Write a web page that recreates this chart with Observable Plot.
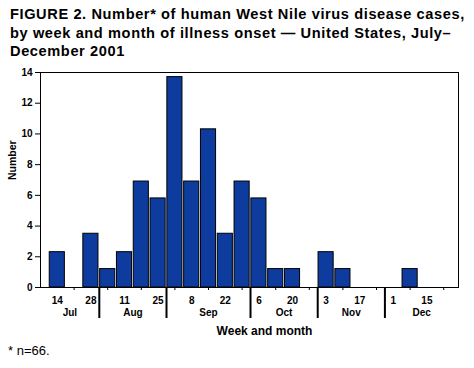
<!DOCTYPE html>
<html>
<head>
<meta charset="utf-8">
<script src="https://cdn.jsdelivr.net/npm/d3@7"></script>
<script src="https://cdn.jsdelivr.net/npm/@observablehq/plot@0.6"></script>
<style>
  html, body { margin: 0; padding: 0; background: #fff; }
  #wrap { position: relative; width: 474px; height: 368px; font-family: "Liberation Sans", Arial, sans-serif; color: #000; }
  #title { position: absolute; left: 10px; top: 5px; width: 464px; font-weight: bold; font-size: 14.6px; letter-spacing: 0.6px; line-height: 18.5px; white-space: nowrap; }
  #chart { position: absolute; left: 0; top: 60px; }
  #caption { position: absolute; left: 8px; top: 343px; font-size: 13px; }
</style>
</head>
<body>
<div id="wrap">
  <div id="title">FIGURE 2. Number* of human West Nile virus disease cases,<br>by week and month of illness onset — United States, July–<br>December 2001</div>
  <div id="chart"></div>
  <div id="caption">* n=66.</div>
</div>
<script>
// Week start days (Jul 14 – Dec 22, 2001)
const weekDays = [14, 21, 28, 4, 11, 18, 25, 1, 8, 15, 22, 29, 6, 13, 20, 27, 3, 10, 17, 24, 1, 8, 15, 22];
const weekMonths = ["Jul","Jul","Jul","Aug","Aug","Aug","Aug","Sep","Sep","Sep","Sep","Sep","Oct","Oct","Oct","Oct","Nov","Nov","Nov","Nov","Dec","Dec","Dec","Dec"];
// Bar heights as drawn against the y axis
const cases = [2.3, 0, 3.5, 1.2, 2.3, 6.9, 5.8, 13.7, 6.9, 10.3, 3.5, 6.9, 5.8, 1.2, 1.2, 0, 2.3, 1.2, 0, 0, 0, 1.2, 0, 0];
const months = ["Jul", "Aug", "Sep", "Oct", "Nov", "Dec"];
const yTicks = [0, 2, 4, 6, 8, 10, 12, 14];

const xDomain = [-1, 23.88];
const data = cases.map((v, i) => ({i, v, day: weekDays[i], month: weekMonths[i]})).filter(d => d.v > 0);

const labeled = weekDays.map((d, i) => i).filter(i => i % 2 === 0);
const minor = weekDays.map((d, i) => i).filter(i => i % 2 === 1);

// month boundaries (between weeks) and centers
const bounds = [];
for (let i = 1; i < weekMonths.length; i++) if (weekMonths[i] !== weekMonths[i - 1]) bounds.push(i - 0.5);
const edges = [xDomain[0], ...bounds, xDomain[1]];
const monthCenters = months.map((m, k) => (edges[k] + edges[k + 1]) / 2);

const chart = Plot.plot({
  width: 474,
  height: 282,
  marginLeft: 40,
  marginRight: 16,
  marginTop: 12,
  marginBottom: 55,
  style: {fontFamily: "'Liberation Sans', Arial, sans-serif", fontWeight: "bold", fontSize: "10px", color: "#000", background: "#fff"},
  x: {type: "linear", domain: xDomain, axis: null},
  y: {domain: [0, 14], axis: null},
  marks: [
    Plot.rectY(data, {x1: d => d.i - 0.45, x2: d => d.i + 0.45, y: "v", fill: "#0d3c9e", stroke: "#000", strokeWidth: 1}),
    Plot.frame({stroke: "#000", strokeWidth: 1}),
    Plot.axisY({ticks: yTicks, tickSize: 5, tickPadding: 3, fontSize: 10, fontWeight: "bold", label: null, stroke: "#000"}),
    Plot.axisX({ticks: labeled, tickSize: 0, tickPadding: 9, tickFormat: i => weekDays[i], fontSize: 10, fontWeight: "bold", label: null}),
    Plot.axisX({ticks: minor, tickSize: 3, tickFormat: () => "", label: null, stroke: "#000"}),
    Plot.axisX({ticks: bounds, tickSize: 31, tickFormat: () => "", label: null, stroke: "#000", strokeWidth: 2}),
    Plot.axisX({ticks: monthCenters, tickSize: 0, tickPadding: 21, tickFormat: (c) => months[monthCenters.indexOf(c)], fontSize: 10, fontWeight: "bold", label: null}),
    Plot.text(["Week and month"], {frameAnchor: "bottom", dx: 15, dy: 47, fontSize: 12, fontWeight: "bold", text: d => d}),
    Plot.text(["Number"], {frameAnchor: "left", dx: -28, rotate: -90, fontSize: 10.5, fontWeight: "bold", text: d => d})
  ]
});
document.getElementById("chart").appendChild(chart);
</script>
</body>
</html>
